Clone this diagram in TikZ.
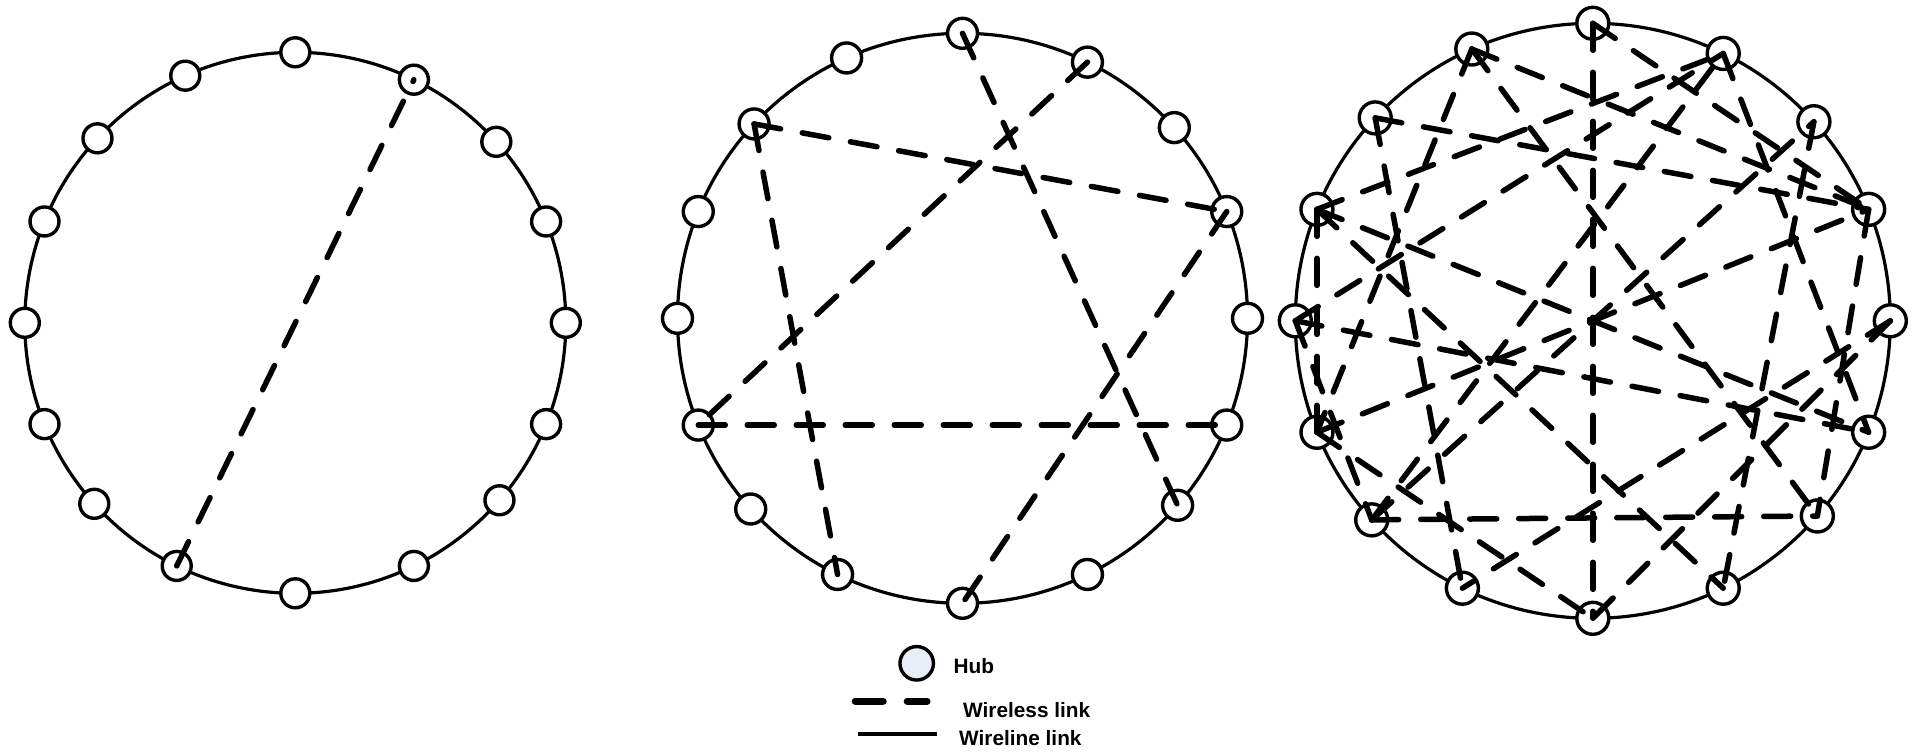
\documentclass[tikz,border=0pt]{standalone}
\usepackage{fontspec}
\setmainfont{Liberation Sans}
\usetikzlibrary{positioning}
\definecolor{hubfill}{RGB}{233,237,247}

\begin{document}
\begin{tikzpicture}[x=1pt, y=-1pt,
  hub/.style={circle, draw, line width=3.4pt, fill=white, minimum size=29pt, inner sep=0pt},
  ring/.style={line width=3.2pt},
  wireless/.style={line width=5.5pt, line cap=round, dash pattern=on 27pt off 22pt},
  wireline/.style={line width=4pt},
  legend/.style={anchor=base west, inner sep=0pt, font=\fontsize{20.8}{25}\selectfont\bfseries}]
\useasboundingbox (0,0) rectangle (1923,753);

% centres of the three rings
\coordinate (ca) at (295.3,322.8);
\coordinate (cb) at (962.5,318.3);
\coordinate (cc) at (1592.8,320.8);

\draw[ring] (ca) circle[radius=270.5pt];
\draw[ring] (cb) circle[radius=285pt];
\draw[ring] (cc) circle[radius=297.5pt];

% hubs, clockwise from the top
\foreach \ang [count=\i from 0] in {90,64,42,22,0,-22,-41,-64,-90,-116,-138,-158,180,158,137,114}{
  \node[hub] (a_\i) at ([shift={(ca)}]\ang:270.5pt) {};
  \node[hub, minimum size=30pt] (b_\i) at ([shift={(cb)}]\ang:285pt) {};
  \node[hub, minimum size=32pt] (c_\i) at ([shift={(cc)}]\ang:297.5pt) {};
}

% first ring
\path[wireless]
(a_9.center) edge (a_1.center);

% second ring
\path[wireless]
(b_0.center) edge (b_6.center)
(b_1.center) edge (b_11.center)
(b_14.center) edge (b_3.center)
	edge (b_9.center)
(b_11.center) edge (b_5.center)
(b_3.center) edge (b_8.center);

% third ring
\path[wireless]
(c_0.center) edge (c_8.center)
	edge (c_3.center)
(c_15.center) edge (c_3.center)
	edge (c_6.center)
	edge (c_11.center)
(c_14.center) edge (c_3.center)
	edge (c_9.center)
(c_13.center) edge (c_5.center)
	edge (c_1.center)
	edge (c_11.center)
	edge (c_7.center)
(c_12.center) edge (c_5.center)
	edge (c_1.center)
	edge (c_10.center)
(c_11.center) edge (c_3.center)
	edge (c_8.center)
(c_10.center) edge (c_6.center)
	edge (c_1.center)
	edge (c_2.center)
(c_2.center) edge (c_7.center)
(c_1.center) edge (c_5.center)
(c_4.center) edge (c_8.center)
	edge (c_9.center)
(c_3.center) edge (c_6.center);

% legend
\node[hub, minimum size=33.5pt, fill=hubfill] (key) at (916.7,663.3) {};
\node[legend] (keyhub) at (953.5,673.3) {Hub};
\coordinate (wl_0) at (855.2,701);
\coordinate (wl_1) at (927,701);
\draw[wireless, line width=7pt, dash pattern=on 28pt off 24pt] (wl_0) -- (wl_1);
\node[legend] (keywl) at (963,717.3) {Wireless link};
\coordinate (wr_0) at (858.3,734.3);
\coordinate (wr_1) at (936.7,734.3);
\draw[wireline] (wr_0) -- (wr_1);
\node[legend] (keywr) at (959,745) {Wireline link};
\end{tikzpicture}
\end{document}
